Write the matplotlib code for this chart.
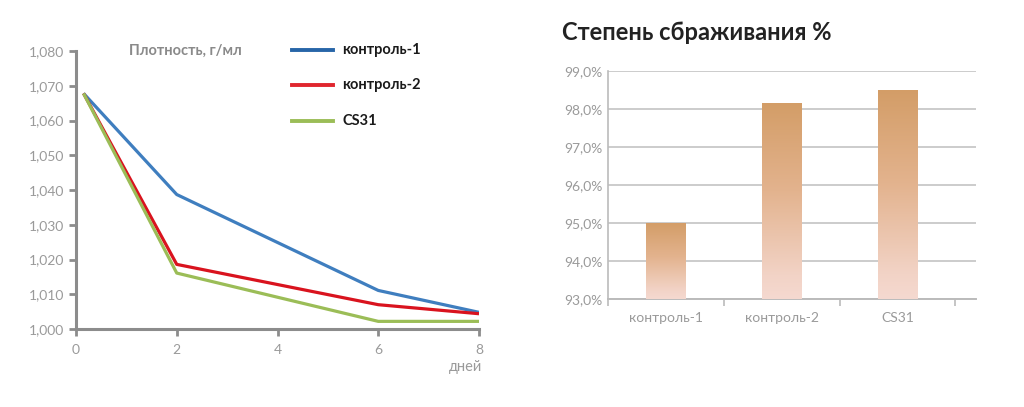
import numpy as np
import matplotlib
matplotlib.use("Agg")
import matplotlib.pyplot as plt
from matplotlib.colors import LinearSegmentedColormap

plt.rcParams['font.family'] = ['Lato', 'DejaVu Sans']

# ---- data ----
days = [0.15, 2, 6, 8]
control1 = [1.0678, 1.0387, 1.0111, 1.0048]
control2 = [1.0678, 1.0186, 1.0070, 1.0044]
cs31 = [1.0678, 1.0161, 1.0022, 1.0022]
series_names = ['контроль-1', 'контроль-2', 'CS31']
line_colors = ['#3F7EBF', '#D9131E', '#9BBD57']
legend_colors = ['#2765A8', '#E0262E', '#9BBD57']

x_ticks = [0, 2, 4, 6, 8]
y_ticks = [1.000, 1.010, 1.020, 1.030, 1.040, 1.050, 1.060, 1.070, 1.080]

bar_categories = ['контроль-1', 'контроль-2', 'CS31']
bar_values = [95.0, 98.15, 98.5]
bar_ticks = [93, 94, 95, 96, 97, 98, 99]

gray = '#8C8C8C'
label_gray = '#9A9A9A'

fig = plt.figure(figsize=(10.24, 4.07), dpi=100)

# ---- left: density lines ----
ax = fig.add_axes([0.0742, 0.1916, 0.3936, 0.6831])
for vals, c in zip([control1, control2, cs31], line_colors):
    ax.plot(days, vals, color=c, lw=2.3, solid_capstyle='butt')
ax.set_xlim(0, 8)
ax.set_ylim(1.000, 1.080)
ax.set_xticks(x_ticks)
ax.set_xticklabels([str(t) for t in x_ticks])
ax.set_yticks(y_ticks)
ax.set_yticklabels([f"{t:.3f}".replace('.', ',') for t in y_ticks])
for s in ['top', 'right']:
    ax.spines[s].set_visible(False)
for s in ['left', 'bottom']:
    ax.spines[s].set_color(gray)
    ax.spines[s].set_linewidth(2.2)
ax.tick_params(axis='both', colors=gray, labelcolor=label_gray, labelsize=10,
               width=2, length=5, direction='out')
ax.tick_params(axis='x', pad=6)
ax.text(7.74, 0.9975 - 0.0065, 'дней', ha='center', va='top', color=label_gray,
        fontsize=10.5, transform=ax.transData, clip_on=False)
fig.text(0.181, 0.876, 'Плотность, г/мл', ha='center', va='center',
         color='#8A8A8A', fontsize=10.5, fontweight='bold')

# legend
leg_y = [0.876, 0.79, 0.702]
for name, c, y in zip(series_names, legend_colors, leg_y):
    fig.add_artist(plt.Line2D([0.285, 0.325], [y, y], color=c, lw=2.8,
                              transform=fig.transFigure))
    fig.text(0.334, y, name, ha='left', va='center', color='#1A1A1A',
             fontsize=10.5, fontweight='bold')

# ---- right: bars with gradient ----
bx = fig.add_axes([0.5938, 0.2646, 0.3594, 0.5617])
xpos = np.arange(len(bar_categories))
bars = bx.bar(xpos, [v - 93 for v in bar_values], bottom=93, width=0.34,
              color='none', edgecolor='none', zorder=3)
cmap = LinearSegmentedColormap.from_list(
    'g', [(0.0, '#F5D9D0'), (0.12, '#F2D3C6'), (0.55, '#E3B38E'), (1.0, '#D39D67')])
grad = np.linspace(0, 1, 256).reshape(-1, 1)
for b in bars:
    x0, y0 = b.get_x(), b.get_y()
    w, h = b.get_width(), b.get_height()
    im = bx.imshow(grad, cmap=cmap, origin='lower', aspect='auto',
                   extent=[x0, x0 + w, y0, y0 + h], zorder=3)
    im.set_clip_path(b)
bx.set_xlim(-0.5, 2.68)
bx.set_ylim(93, 99)
bx.set_yticks(bar_ticks)
bx.set_yticklabels([f"{t:.1f}%".replace('.', ',') for t in bar_ticks])
bx.set_xticks(xpos)
bx.set_xticklabels(bar_categories)
bx.set_xticks([-0.5, 0.5, 1.5, 2.5], minor=True)
bx.tick_params(axis='x', which='major', length=0, pad=9, labelcolor=label_gray, labelsize=10)
bx.tick_params(axis='x', which='minor', length=5, width=1.2, color='#BBBBBB')
bx.tick_params(axis='y', length=0, pad=4, labelcolor=label_gray, labelsize=10)
bx.grid(axis='y', color='#CCCCCC', lw=1.4, zorder=0)
bx.set_axisbelow(True)
for s in ['top', 'right']:
    bx.spines[s].set_visible(False)
bx.spines['left'].set_color('#BBBBBB')
bx.spines['left'].set_linewidth(1.2)
bx.spines['bottom'].set_color('#BBBBBB')
bx.spines['bottom'].set_linewidth(1.4)
fig.text(0.549, 0.921, 'Степень сбраживания %', ha='left', va='center',
         color='#222222', fontsize=17, fontweight='bold')

fig.savefig('out.png', dpi=100)
